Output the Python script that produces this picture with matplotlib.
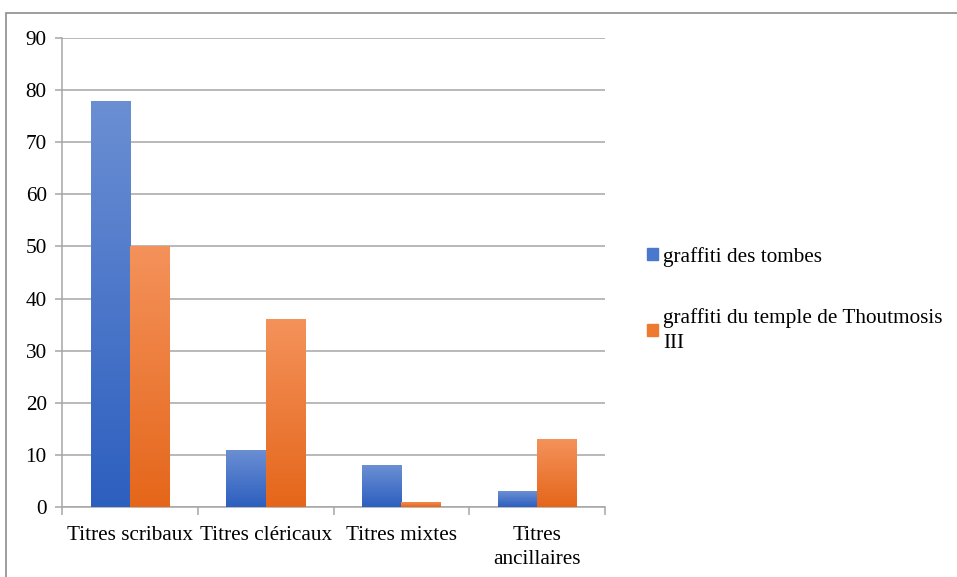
import matplotlib
matplotlib.use("Agg")
import matplotlib.pyplot as plt
import matplotlib.patches as mpatches
from matplotlib.colors import LinearSegmentedColormap
import numpy as np

plt.rcParams['font.family'] = ['Liberation Serif', 'DejaVu Serif']

categories = ['Titres scribaux', 'Titres cléricaux', 'Titres mixtes', 'Titres\nancillaires']
tombes = [78, 11, 8, 3]
temple = [50, 36, 1, 13]
series_names = ['graffiti des tombes', 'graffiti du temple de Thoutmosis\nIII']

blue_cmap = LinearSegmentedColormap.from_list('b', ['#2d5fbf', '#6b8fd3'])
orange_cmap = LinearSegmentedColormap.from_list('o', ['#e5661a', '#f4925b'])

fig = plt.figure(figsize=(9.57, 5.77), dpi=100)
ax = fig.add_axes([62/957, 70/577, 543/957, 469/577])

# outer frame
fig.patches.append(mpatches.Rectangle((6/957, -0.01), 1.0, 1 - 13/577 + 0.01,
                                      transform=fig.transFigure, fill=False,
                                      edgecolor='#8c8c8c', linewidth=1.2))

x = np.arange(len(categories))
w = 0.29
grad = np.linspace(0, 1, 256).reshape(-1, 1)

def gradient_bars(xs, vals, cmap, label):
    bars = ax.bar(xs, vals, width=w, color=cmap(0.5), label=label, zorder=2)
    for b in bars:
        x0, y0 = b.get_x(), b.get_y()
        x1, y1 = x0 + b.get_width(), y0 + b.get_height()
        im = ax.imshow(grad, extent=[x0, x1, y0, y1], origin='lower', cmap=cmap,
                       aspect='auto', zorder=3, interpolation='bilinear')
        im.set_clip_path(b)
    return bars

gradient_bars(x - w/2, tombes, blue_cmap, series_names[0])
gradient_bars(x + w/2, temple, orange_cmap, series_names[1])

ax.set_xlim(-0.5, 3.5)
ax.set_ylim(0, 90)
ax.set_yticks(range(0, 91, 10))
ax.yaxis.grid(True, color='#a6a6a6', linewidth=1.1, zorder=0)
ax.set_axisbelow(True)

for s in ['top', 'right']:
    ax.spines[s].set_visible(False)
ax.spines['left'].set_color('#a6a6a6')
ax.spines['bottom'].set_color('#a6a6a6')
ax.spines['left'].set_linewidth(1.1)
ax.spines['bottom'].set_linewidth(1.1)

ax.set_xticks(x)
ax.set_xticklabels(categories, fontsize=15.3, linespacing=1.35)
ax.set_xticks(np.arange(-0.5, 3.6, 1), minor=True)
ax.tick_params(axis='x', which='major', length=0, pad=14)
ax.tick_params(axis='x', which='minor', length=6, color='#a6a6a6', width=1.1)
ax.tick_params(axis='y', length=5, color='#a6a6a6', width=1.1, labelsize=15.3, pad=6)

handles = [mpatches.Patch(color='#4a78cc'), mpatches.Patch(color='#ee7a30')]
leg = fig.legend(handles, series_names, loc='upper left', bbox_to_anchor=(632/957, 1 - 232/577),
                 frameon=False, fontsize=15.3, handlelength=0.5, handleheight=0.5,
                 handletextpad=0.25, labelspacing=1.95, borderpad=0.2)
for t in leg.get_texts():
    t.set_linespacing(1.45)

fig.savefig('out.png', dpi=100)
